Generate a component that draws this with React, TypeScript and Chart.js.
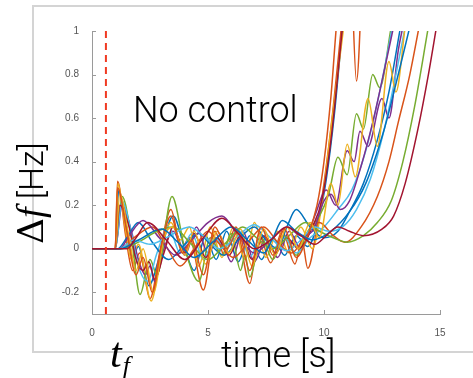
import React, { useEffect, useRef } from "react";
import { Chart, registerables } from "chart.js";
Chart.register(...registerables);

type P = [number, number];

// axis ticks
const xTicks = [0, 5, 10, 15];
const yTicks = [-0.2, 0, 0.2, 0.4, 0.6, 0.8, 1];
const xRange = [0, 15];
const yRange = [-0.3, 1];
const tfTime = 0.6;

// series (time [s], delta f [Hz])
const blueA: P[] = [[0,0],[1.0,0],[1.15,0.27],[1.45,0.12],[1.75,-0.04],[2.0,0.01],[2.45,-0.17],[2.9,-0.04],[3.5,0.15],[4.0,0.0],[4.4,-0.1],[4.9,0.06],[5.35,-0.05],[5.8,0.08],[6.3,-0.06],[6.8,0.06],[7.3,-0.05],[7.8,0.05],[8.3,-0.03],[8.8,0.06],[9.3,0.01],[9.8,0.15],[10.1,0.32],[10.45,0.62],[10.8,1.02]];
const orangeA: P[] = [[0,0],[1.0,0],[1.1,0.31],[1.45,0.06],[1.75,-0.1],[2.05,-0.02],[2.5,-0.23],[2.95,0.0],[3.4,0.18],[3.85,0.0],[4.2,0.05],[4.8,-0.19],[5.3,0.08],[5.7,-0.03],[6.2,0.1],[6.8,-0.16],[7.2,0.07],[7.7,-0.065],[8.2,0.08],[8.75,-0.07],[9.05,0.04],[9.3,-0.09],[9.7,0.1],[10.0,0.3],[10.4,0.65],[10.75,1.02]];
const yellowA: P[] = [[0,0],[1.0,0],[1.12,0.3],[1.4,0.12],[1.7,-0.05],[2.0,0.02],[2.55,-0.24],[3.0,0.0],[3.4,0.12],[3.8,0.04],[4.2,0.1],[4.6,-0.08],[5.1,0.1],[5.6,-0.04],[6.1,0.1],[6.6,-0.05],[7.0,0.12],[7.5,-0.04],[8.0,0.08],[8.5,-0.02],[9.0,0.1],[9.5,0.0],[9.9,0.2],[10.3,0.55],[10.85,1.02]];
const purpleA: P[] = [[0,0],[1.0,0],[1.3,0.2],[1.7,0.08],[2.0,-0.05],[2.3,-0.12],[2.5,-0.08],[2.7,-0.15],[3.1,0.0],[3.5,0.08],[4.0,-0.03],[4.5,0.1],[5.0,-0.02],[5.5,0.06],[6.0,-0.06],[6.5,0.08],[7.0,-0.06],[7.5,0.05],[8.0,-0.04],[8.5,0.08],[9.0,0.0],[9.6,0.15],[10.1,0.27],[10.5,0.2],[11.0,0.45],[11.3,0.4],[11.55,0.54],[11.9,0.47],[12.5,0.69],[12.8,0.6],[13.2,0.91],[13.4,1.02]];
const greenA: P[] = [[0,0],[1.0,0],[1.3,0.24],[1.7,0.05],[2.07,-0.21],[2.5,-0.05],[2.8,-0.12],[3.45,0.24],[4.0,0.0],[4.6,-0.15],[5.1,0.05],[5.6,-0.03],[6.0,0.07],[6.4,-0.1],[6.6,-0.03],[6.8,-0.13],[7.3,0.05],[7.8,-0.05],[8.3,0.06],[8.8,-0.03],[9.3,0.08],[9.8,0.15],[10.2,0.25],[10.6,0.42],[11.0,0.34],[11.4,0.62],[11.7,0.55],[12.1,0.8],[12.4,0.74],[12.9,1.02]];
const cyanA: P[] = [[0,0],[1.0,0],[1.3,0.22],[1.6,0.12],[2.0,-0.08],[2.4,-0.15],[2.8,-0.02],[3.3,0.1],[3.8,-0.02],[4.3,0.07],[4.8,-0.05],[5.3,0.05],[5.8,0.0],[6.3,0.09],[6.8,-0.04],[7.3,0.06],[7.8,0.0],[8.3,0.05],[8.8,-0.02],[9.4,0.05],[10.0,0.1],[10.6,0.18],[11.2,0.27],[11.8,0.45],[12.4,0.72],[12.95,1.02]];
const redA: P[] = [[0,0],[1.0,0],[1.2,0.2],[1.6,0.1],[1.9,-0.05],[2.2,-0.1],[2.45,-0.06],[2.7,-0.14],[3.1,-0.02],[3.5,0.1],[4.0,-0.02],[4.4,0.07],[4.9,-0.04],[5.4,0.05],[5.9,-0.03],[6.4,0.06],[6.9,-0.05],[7.4,0.06],[7.9,-0.02],[8.4,0.05],[8.9,0.0],[9.5,0.1],[9.9,0.22],[10.3,0.5],[10.8,1.02]];
const blueB: P[] = [[0,0],[1.1,0],[1.5,0.05],[2.0,0.12],[2.6,0.03],[3.3,-0.05],[4.0,0.02],[4.6,0.07],[5.1,0.02],[5.7,-0.03],[6.3,0.04],[7.0,0.1],[7.5,0.04],[8.0,0.0],[8.4,0.1],[8.8,0.18],[9.4,0.1],[10.0,0.05],[10.6,0.08],[11.1,0.17],[11.7,0.3],[12.3,0.5],[12.8,0.72],[13.3,1.02]];
const orangeB: P[] = [[0,0],[1.2,0],[1.8,0.05],[2.6,0.1],[3.2,0.01],[3.8,-0.08],[4.4,0.0],[5.0,0.08],[5.5,0.02],[6.1,-0.04],[6.8,0.04],[7.4,0.1],[8.0,0.03],[8.6,-0.02],[9.2,0.06],[9.8,0.12],[10.4,0.06],[10.9,0.03],[11.6,0.1],[12.3,0.24],[12.8,0.4],[13.2,0.58],[13.7,0.8],[14.1,1.02]];
const purpleB: P[] = [[0,0],[1.2,0],[1.6,0.06],[2.2,0.13],[2.9,0.05],[3.6,-0.03],[4.3,0.04],[5.0,0.12],[5.6,0.15],[6.3,0.06],[7.0,-0.02],[7.7,0.04],[8.4,0.1],[9.0,0.06],[9.5,0.08],[10.0,0.22],[10.3,0.25],[10.7,0.18],[11.1,0.22],[11.6,0.38],[12.1,0.58],[12.6,0.82],[13.0,1.02]];
const greenB: P[] = [[0,0],[1.3,0],[2.0,0.03],[2.8,0.08],[3.5,0.1],[4.2,0.03],[5.0,-0.05],[5.8,0.03],[6.5,0.1],[7.1,0.05],[7.8,0.0],[8.5,0.06],[9.2,0.12],[9.8,0.08],[10.4,0.05],[11.0,0.03],[11.7,0.06],[12.3,0.12],[12.9,0.22],[13.4,0.4],[13.9,0.65],[14.5,1.02]];
const cyanB: P[] = [[0,0],[1.2,0],[1.8,0.04],[2.5,0.02],[3.2,0.05],[4.2,0.1],[4.9,0.05],[5.5,0.0],[6.2,0.05],[7.0,0.11],[7.7,0.05],[8.4,-0.01],[9.0,0.04],[9.6,0.1],[10.2,0.08],[10.8,0.1],[11.4,0.18],[12.0,0.32],[12.6,0.55],[13.1,0.8],[13.5,1.02]];
const yellowB: P[] = [[0,0],[1.0,0],[1.2,0.25],[1.6,0.05],[1.9,-0.1],[2.2,0.0],[2.65,-0.2],[3.1,0.05],[3.5,0.1],[4.0,-0.03],[4.4,0.08],[4.9,-0.07],[5.4,0.08],[5.9,-0.02],[6.4,0.09],[6.9,-0.08],[7.4,0.09],[7.9,-0.03],[8.4,0.1],[8.9,0.0],[9.4,0.12],[9.8,0.05],[10.3,0.3],[10.6,0.2],[11.0,0.48],[11.35,0.33],[11.9,0.69],[12.3,0.47],[12.8,0.86],[13.1,0.72],[13.5,1.02]];
const orangeC: P[] = [[0,0],[1.0,0],[1.1,0.28],[1.5,0.08],[1.9,-0.12],[2.2,-0.04],[2.6,-0.2],[3.0,0.02],[3.4,0.15],[3.9,-0.02],[4.3,0.04],[4.8,-0.12],[5.3,0.1],[5.8,0.0],[6.3,0.08],[6.8,-0.1],[7.3,0.1],[7.8,-0.03],[8.3,0.09],[8.8,-0.04],[9.3,0.06],[9.7,0.2],[10.0,0.4],[10.3,0.7],[10.6,1.1],[11.1,1.4],[11.4,0.77],[11.7,1.4]];
const blueC: P[] = [[0,0],[1.2,0],[2.0,0.04],[3.0,0.09],[3.7,0.03],[4.4,-0.04],[5.2,0.03],[6.0,0.1],[6.7,0.04],[7.4,-0.02],[7.8,0.05],[8.2,0.13],[8.8,0.08],[9.5,0.04],[10.3,0.08],[11.1,0.17],[11.8,0.3],[12.6,0.55],[13.2,0.8],[13.7,1.02]];
const redB: P[] = [[0,0],[1.5,0],[1.9,0.05],[2.4,0.12],[3.2,0.04],[4.0,-0.05],[4.8,0.05],[5.6,0.14],[6.3,0.07],[7.0,0.0],[7.7,0.04],[8.4,0.1],[9.0,0.06],[9.6,0.02],[10.1,0.06],[10.6,0.1],[11.1,0.08],[11.7,0.06],[12.5,0.09],[13.0,0.15],[13.5,0.3],[14.05,0.55],[14.5,0.8],[14.85,1.02]];

const seriesList: P[][] = [blueA, orangeA, yellowA, purpleA, greenA, cyanA, redA, blueB, orangeB, purpleB, greenB, cyanB, yellowB, orangeC, blueC, redB];
const palette = ["#0072BD", "#D95319", "#EDB120", "#7E2F8E", "#77AC30", "#4DBEEE", "#A2142F", "#0072BD", "#D95319", "#7E2F8E", "#77AC30", "#4DBEEE", "#EDB120", "#D95319", "#0072BD", "#A2142F"];

const AXIS = "#9a9a9a";

const inwardTicks = {
  id: "inwardTicks",
  beforeDatasetsDraw(chart: any) {
    const { ctx, chartArea } = chart;
    const x = chart.scales.x;
    const y = chart.scales.y;
    ctx.save();
    ctx.strokeStyle = AXIS;
    ctx.lineWidth = 1;
    ctx.beginPath();
    x.ticks.forEach((t: any) => {
      const px = Math.round(x.getPixelForValue(t.value)) + 0.5;
      ctx.moveTo(px, chartArea.bottom);
      ctx.lineTo(px, chartArea.bottom - 4);
    });
    y.ticks.forEach((t: any) => {
      const py = Math.round(y.getPixelForValue(t.value)) + 0.5;
      ctx.moveTo(chartArea.left, py);
      ctx.lineTo(chartArea.left + 4, py);
    });
    ctx.stroke();
    ctx.restore();
  },
};

export default function App() {
  const ref = useRef<HTMLCanvasElement | null>(null);
  useEffect(() => {
    if (!ref.current) return;
    const n = seriesList.length;
    const datasets: any[] = [
      {
        data: [{ x: tfTime, y: yRange[0] }, { x: tfTime, y: yRange[1] }],
        borderColor: "#f03a22",
        borderWidth: 2,
        borderDash: [7, 5],
        pointRadius: 0,
        tension: 0,
        order: -1,
      },
      ...seriesList.map((s, i) => ({
        data: s.map(([x, y]) => ({ x, y })),
        borderColor: palette[i],
        borderWidth: 1.5,
        pointRadius: 0,
        cubicInterpolationMode: "monotone",
        order: n - i,
      })),
    ];
    const chart = new Chart(ref.current, {
      type: "line",
      data: { datasets },
      plugins: [inwardTicks],
      options: {
        animation: false,
        responsive: false,
        events: [],
        layout: { padding: { top: 31, right: 33, left: 0, bottom: 0 } },
        plugins: { legend: { display: false }, tooltip: { enabled: false } },
        scales: {
          x: {
            type: "linear",
            min: xRange[0],
            max: xRange[1],
            afterBuildTicks: (s: any) => { s.ticks = xTicks.map((v) => ({ value: v })); },
            afterFit: (s: any) => { s.height = 64; },
            grid: { display: false },
            border: { display: true, color: AXIS, width: 1 },
            ticks: { padding: 5, color: "#555", font: { family: "'Liberation Sans', Arial, sans-serif", size: 10 }, maxRotation: 0, callback: (v: any) => String(v) },
          },
          y: {
            type: "linear",
            min: yRange[0],
            max: yRange[1],
            afterBuildTicks: (s: any) => { s.ticks = yTicks.map((v) => ({ value: v })); },
            afterFit: (s: any) => { s.width = 92; },
            grid: { display: false },
            border: { display: true, color: AXIS, width: 1 },
            ticks: { padding: 5, color: "#555", font: { family: "'Liberation Sans', Arial, sans-serif", size: 10 }, callback: (v: any) => String(Math.round(Number(v) * 10) / 10) },
          },
        },
      } as any,
    });
    return () => chart.destroy();
  }, []);

  const sans = "Roboto, 'Liberation Sans', Arial, sans-serif";
  return (
    <div style={{ position: "fixed", left: 0, top: 0, width: 473, height: 378, background: "#fff", overflow: "hidden" }}>
      <div style={{ position: "absolute", left: 32, top: 5, width: 500, height: 348, border: "2px solid #d4d4d4", boxSizing: "border-box" }} />
      <canvas ref={ref} width={473} height={378} style={{ position: "absolute", left: 0, top: 0 }} />
      <div style={{ position: "absolute", left: 133, top: 92, fontFamily: sans, fontWeight: 300, fontSize: 36, lineHeight: "36px", whiteSpace: "nowrap", color: "#000" }}>No control</div>
      <div style={{ position: "absolute", left: 221, top: 337, fontFamily: sans, fontWeight: 300, fontSize: 36, lineHeight: "36px", whiteSpace: "nowrap", color: "#000" }}>time [s]</div>
      <div style={{ position: "absolute", left: 110, top: 332, fontFamily: "'Liberation Serif', serif", fontStyle: "italic", fontSize: 42, lineHeight: "42px", whiteSpace: "nowrap", color: "#000" }}>
        t<span style={{ fontSize: 26, position: "relative", top: 7, marginLeft: 1 }}>f</span>
      </div>
      <div style={{ position: "absolute", left: 10, top: 244, transformOrigin: "left top", transform: "rotate(-90deg)", fontFamily: sans, fontWeight: 300, fontSize: 34, lineHeight: "40px", whiteSpace: "nowrap", color: "#000" }}>
        <span style={{ fontFamily: "'DejaVu Serif', serif", fontWeight: 400, fontSize: 36 }}>Δ</span>
        <span style={{ fontFamily: "'Liberation Serif', serif", fontStyle: "italic", fontWeight: 400, fontSize: 38 }}>f</span>
        <span> [Hz]</span>
      </div>
    </div>
  );
}
